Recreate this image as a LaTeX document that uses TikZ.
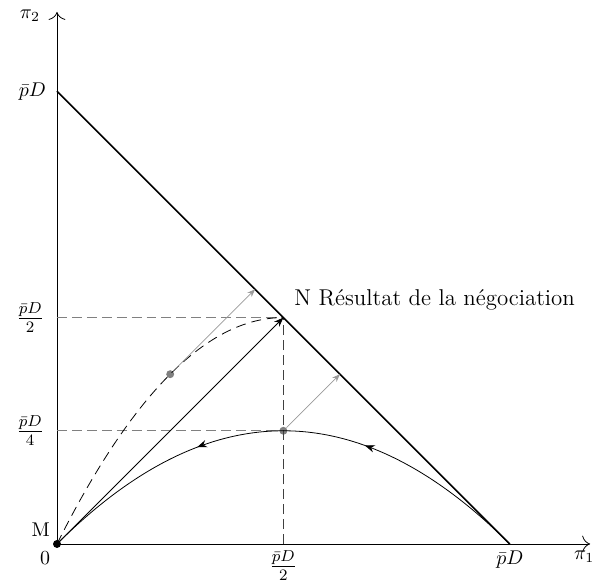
\documentclass[tikz,border=0pt]{standalone}
\usepackage{xcolor}
\usepackage{tikz}
\usetikzlibrary{arrows.meta,decorations.markings}

\begin{document}
\begin{tikzpicture}[
>=Stealth,
axis/.style={-{To[length=4pt]}},
budget/.style={thick},
guide/.style={gray,dash pattern=on 5pt off 2.5pt},
push/.style={->,gray!80,>={Stealth[length=4pt]}},
dot/.style={circle,fill,inner sep=0pt,minimum size=4pt},
fraclab/.style={font=\large},
flow/.style={postaction={decorate},decoration={markings,
  mark=at position 0.34 with {\arrow{Stealth[length=5pt]}},
  mark=at position 0.67 with {\arrow{Stealth[length=5pt]}}}}
]
\useasboundingbox (-1.007,-0.707) rectangle (9.523,9.611);

% Points
\coordinate (O) at (0,0);
\coordinate (N) at (4,4);
\coordinate (X) at (8,0);
\coordinate (Y) at (0,8);
\coordinate (Nx) at (4,0);
\coordinate (Ny) at (0,4);
\coordinate (Qy) at (0,2);
\node[dot,gray] (P) at (2,3) {};
\node[dot,gray] (Q) at (4,2) {};
\coordinate (Pe) at (3.5,4.5);
\coordinate (Qe) at (5,3);

% Axes
\draw[axis] (O) -- (9.42,0) node[below,xshift=-3pt] (pi1) {$\pi_1$};
\draw[axis] (O) -- (0,9.40) node[left,xshift=-5pt,yshift=-2pt] (pi2) {$\pi_2$};

% Guides
\draw[guide] (Ny) -- (N);
\draw[guide] (Qy) -- (Q);
\draw[guide,darkgray] (Nx) -- (N);

% Frontier
\draw[budget] (Y) -- (X);

% Paths to N
\draw[->] (O) -- (N);
\draw[dashed,dash pattern=on 5pt off 3pt] (O) .. controls (4/3,8/3) and (8/3,4) .. (N);
\draw[flow] (X) .. controls (16/3,8/3) and (8/3,8/3) .. (O);

% Pushes
\draw[push] (P) -- (Pe);
\draw[push] (Q) -- (Qe);

% Origin
\node[dot] (M) at (O) {};

% Labels
\node[left,xshift=-2pt] (ly) at (Y) {$\bar{p}D$};
\node[left,xshift=-3pt,fraclab] (lny) at (Ny) {$\frac{\bar{p}D}{2}$};
\node[left,xshift=-3pt,fraclab] (lqy) at (Qy) {$\frac{\bar{p}D}{4}$};
\node[below] (lx) at (X) {$\bar{p}D$};
\node[below,fraclab] (lnx) at (Nx) {$\frac{\bar{p}D}{2}$};
\node[below left] (zero) at (O) {0};
\node[above left] (mlab) at (O) {M};
\node[above right,xshift=2pt,font=\fontsize{11.5}{13}\selectfont] (nlab) at (N) {N R\'esultat de la n\'egociation};

\end{tikzpicture}
\end{document}
